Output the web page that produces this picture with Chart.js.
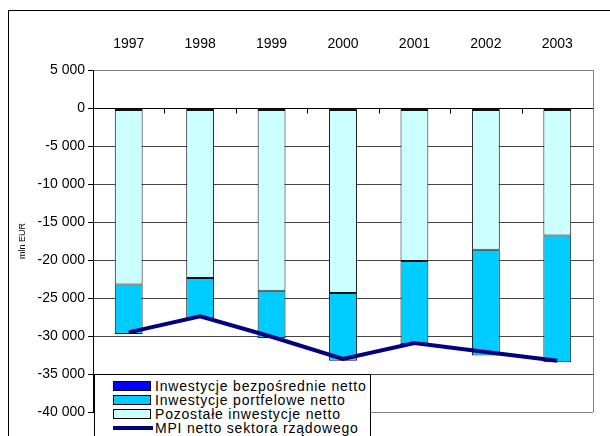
<!DOCTYPE html>
<html>
<head>
<meta charset="utf-8">
<script src="https://cdn.jsdelivr.net/npm/chart.js@4"></script>
<style>
  html, body { margin: 0; padding: 0; background: #fff; overflow: hidden; width: 610px; height: 436px; }
  #frame { position: absolute; left: 8px; top: 10px; width: 700px; height: 600px; border: 1px solid #000; box-sizing: border-box; }
  #wrap { position: absolute; left: 0; top: 0; width: 610px; height: 460px; }
  #legend { position: absolute; left: 94px; top: 374px; width: 277px; height: 80px; border: 1px solid #000; background: #fff;
    box-sizing: border-box; font-family: 'Liberation Sans', Arial, sans-serif; font-size: 14px; letter-spacing: 0.8px; color: #000; padding-top: 4px; }
  .row { height: 14px; line-height: 14px; position: relative; white-space: nowrap; }
  .sw { position: absolute; left: 18px; top: 2px; width: 38px; height: 10px; border: 1px solid #000; box-sizing: border-box; }
  .ln { position: absolute; left: 18px; top: 5px; width: 40px; height: 4px; }
  .tx { position: absolute; left: 60px; top: 0; }
</style>
</head>
<body>
<div id="frame"></div>
<div id="wrap"><canvas id="myChart" width="610" height="460"></canvas></div>
<div id="legend"></div>
<script>
// values (mln EUR)
const years = ['1997', '1998', '1999', '2000', '2001', '2002', '2003'];
const directNet = [-250, -250, -250, -250, -250, -250, -250];
const portfolioNet = [-6530, -5280, -6220, -8910, -10920, -13900, -16710];
const otherNet = [-22960, -22120, -23790, -24090, -19880, -18400, -16510];
const mpiGov = [-29520, -27420, -30100, -33030, -30920, -32100, -33250];

const fontName = "'Liberation Sans', Arial, sans-serif";

const fmt = (v) => {
  const s = String(Math.abs(v)).replace(/\B(?=(\d{3})+(?!\d))/g, ' ');
  return v < 0 ? '-' + s : s;
};

// zero axis line with tick marks, plus grey plot border on the right
const axisPlugin = {
  id: 'axisPlugin',
  beforeDatasetsDraw(chart) {
    const {ctx, chartArea, scales} = chart;
    const y0 = Math.round(scales.y.getPixelForValue(0)) + 0.5;
    ctx.save();
    ctx.strokeStyle = '#000';
    ctx.lineWidth = 1;
    ctx.beginPath();
    ctx.moveTo(chartArea.left, y0);
    ctx.lineTo(chartArea.right, y0);
    const n = years.length;
    const w = (chartArea.right - chartArea.left) / n;
    for (let i = 1; i <= n; i++) {
      const x = Math.round(chartArea.left + i * w) + 0.5;
      ctx.moveTo(x, y0);
      ctx.lineTo(x, y0 + 5);
    }
    ctx.stroke();
    ctx.strokeStyle = '#808080';
    ctx.beginPath();
    ctx.moveTo(Math.round(chartArea.right) + 0.5, chartArea.top);
    ctx.lineTo(Math.round(chartArea.right) + 0.5, chartArea.bottom);
    ctx.stroke();
    ctx.restore();
  }
};

const data = {
  labels: years,
  datasets: [
    {
      label: 'Inwestycje bezpośrednie netto',
      data: directNet,
      backgroundColor: '#0000FF',
      borderColor: '#111',
      borderWidth: 1,
      borderSkipped: false,
      stack: 'bars'
    },
    {
      label: 'Pozostałe inwestycje netto',
      data: otherNet,
      backgroundColor: '#CCFFFF',
      borderColor: '#111',
      borderWidth: 1,
      borderSkipped: false,
      stack: 'bars'
    },
    {
      label: 'Inwestycje portfelowe netto',
      data: portfolioNet,
      backgroundColor: '#00CCFF',
      borderColor: '#111',
      borderWidth: 1,
      borderSkipped: false,
      stack: 'bars'
    },
    {
      type: 'line',
      label: 'MPI netto sektora rządowego',
      data: mpiGov,
      borderColor: '#000080',
      backgroundColor: '#000080',
      borderWidth: 4,
      pointRadius: 0,
      tension: 0,
      fill: false,
      stack: 'mpi',
      order: -1
    }
  ]
};

const config = {
  type: 'bar',
  data,
  plugins: [axisPlugin],
  options: {
    responsive: false,
    animation: false,
    devicePixelRatio: 1,
    layout: { padding: { left: 0, right: 17, top: 0, bottom: 48 } },
    datasets: { bar: { barPercentage: 0.39, categoryPercentage: 1 } },
    plugins: { legend: { display: false }, tooltip: { enabled: false } },
    scales: {
      x: {
        position: 'top',
        stacked: true,
        grid: { display: false, drawTicks: false },
        border: { display: false },
        ticks: { color: '#000', font: { family: fontName, size: 14 }, padding: 17, maxRotation: 0 },
        afterFit: (scale) => { scale.height = 70; }
      },
      y: {
        stacked: true,
        min: -40000,
        max: 5000,
        ticks: { stepSize: 5000, color: '#000', font: { family: fontName, size: 14 }, padding: 3, callback: (v) => fmt(v) },
        grid: {
          color: (c) => (c.tick && (c.tick.value === 5000 || c.tick.value === -40000)) ? '#808080' : '#444',
          tickColor: '#000',
          tickLength: 5
        },
        border: { display: true, color: '#000', width: 1 },
        title: { display: true, text: 'mln EUR', color: '#000', font: { family: fontName, size: 9 }, padding: { top: 17, bottom: 0 } },
        afterFit: (scale) => { scale.width = 93; }
      }
    }
  }
};

const myChart = new Chart(document.getElementById('myChart'), config);

// legend in the order of the reference
const legendOrder = [0, 2, 1, 3];
const legendEl = document.getElementById('legend');
legendOrder.forEach((i) => {
  const ds = data.datasets[i];
  const row = document.createElement('div');
  row.className = 'row';
  const mark = document.createElement('span');
  if (ds.type === 'line') {
    mark.className = 'ln';
    mark.style.background = ds.borderColor;
  } else {
    mark.className = 'sw';
    mark.style.background = ds.backgroundColor;
  }
  const txt = document.createElement('span');
  txt.className = 'tx';
  txt.textContent = ds.label;
  row.appendChild(mark);
  row.appendChild(txt);
  legendEl.appendChild(row);
});
</script>
</body>
</html>
